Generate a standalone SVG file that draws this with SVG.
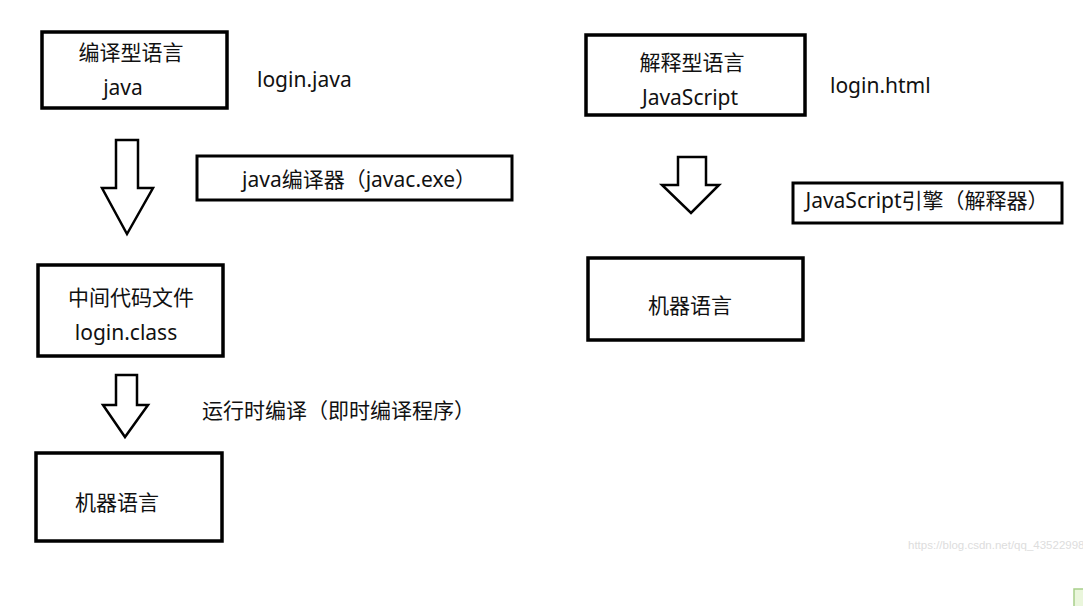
<svg xmlns="http://www.w3.org/2000/svg" width="1083" height="606" viewBox="0 0 1083 606">
<style>
.box{fill:#fff;stroke:#000;stroke-width:3.5}
.box2{fill:#fff;stroke:#000;stroke-width:3}
.arr{fill:#fff;stroke:#000;stroke-width:2.5;stroke-linejoin:miter}
text{font-family:"Noto Sans","Noto Sans CJK SC",sans-serif;font-size:21px;fill:#111}
.c{text-anchor:middle}
.wm{font-family:"Liberation Sans",sans-serif;font-size:11.5px;fill:#ddd}
</style>
<rect width="1083" height="606" fill="#fff"/>
<g id="connectors">
<path class="arr" d="M116,140 H138 V188 H153 L127,234 L102,188 H116 Z"/>
<path class="arr" d="M116,375 H137 V405 H148 L125,437 L103,405 H116 Z"/>
<path class="arr" d="M678,157 H706 V185 H719 L691,213 L662,185 H678 Z"/>
</g>
<g id="n-compiled">
<rect class="box" x="42" y="32" width="185" height="76"/>
<text class="c" x="131" y="60">编译型语言</text>
<text class="c" x="123" y="95">java</text>
</g>
<g id="l-loginjava"><text x="257" y="87">login.java</text></g>
<g id="n-javac">
<rect class="box2" x="197" y="156" width="315" height="44"/>
<text class="c" x="359" y="187">java编译器（javac.exe）</text>
</g>
<g id="n-class">
<rect class="box" x="38" y="265" width="185" height="91"/>
<text class="c" x="131" y="305">中间代码文件</text>
<text class="c" x="126" y="340">login.class</text>
</g>
<g id="l-jit"><text x="202" y="418">运行时编译（即时编译程序）</text></g>
<g id="n-machine1">
<rect class="box" x="36" y="453" width="186" height="88"/>
<text class="c" x="117" y="510">机器语言</text>
</g>
<g id="n-interp">
<rect class="box" x="586" y="35" width="219" height="80"/>
<text class="c" x="692" y="70">解释型语言</text>
<text class="c" x="690" y="105">JavaScript</text>
</g>
<g id="l-loginhtml"><text x="830" y="93">login.html</text></g>
<g id="n-engine">
<rect class="box2" x="793" y="183" width="269" height="40"/>
<text class="c" x="927" y="208">JavaScript引擎（解释器）</text>
</g>
<g id="n-machine2">
<rect class="box" x="588" y="258" width="215" height="82"/>
<text class="c" x="690" y="313">机器语言</text>
</g>
<text class="wm" x="908" y="549">https://blog.csdn.net/qq_43522998</text>
<rect x="1074" y="589" width="12" height="20" fill="#eaf6dc" stroke="#a8cf8a" stroke-width="1.5"/>
</svg>
